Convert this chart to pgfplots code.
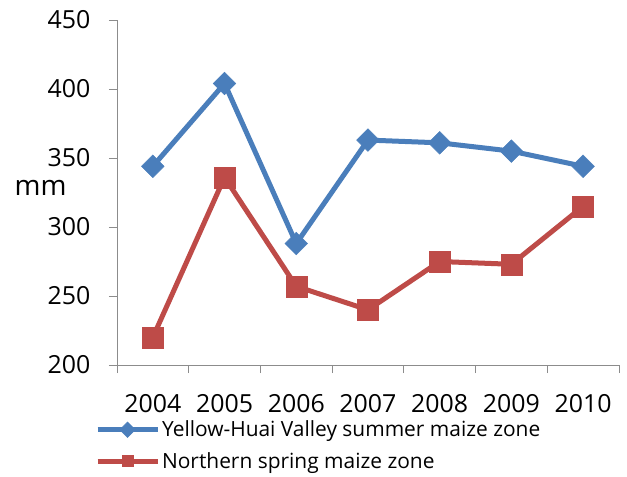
\documentclass[border=0pt]{standalone}
\usepackage{fontspec}
\setmainfont{Open Sans}
\usepackage{pgfplots}
\pgfplotsset{compat=1.18}
\definecolor{myblue}{HTML}{4A7EBB}
\definecolor{myred}{HTML}{BE4B48}
\definecolor{axgray}{HTML}{8C8C8C}
\begin{document}
\begin{tikzpicture}
\begin{axis}[
  scale only axis, width=502bp, height=345bp,
  axis lines=left, axis line style={axgray, line width=0.8pt, -},
  xmin=-0.5, xmax=6.5, ymin=200, ymax=450,
  xtick={-0.5,0.5,...,6.5}, x tick label as interval,
  xticklabels={2004,2005,2006,2007,2008,2009,2010},
  ytick={200,250,...,450},
  tick align=outside, major tick length=8bp,
  tick style={axgray, line width=0.8pt},
  ticklabel style={font=\fontsize{25}{29}\selectfont},
  /pgf/number format/assume math mode=true,
  xticklabel style={yshift=-18bp},
  yticklabel style={xshift=-15bp},
  clip=false,
  legend style={draw=none, fill=none, inner sep=0pt, at={(axis description cs:-0.044,-0.156)}, anchor=north west, font=\fontsize{21}{25}\selectfont, row sep=10bp, column sep=0bp, nodes={inner sep=2bp}},
  legend cell align=left,
  legend image code/.code={\draw[#1, mark size=5.5bp, mark repeat=2, mark phase=2] plot coordinates {(0bp,0bp) (30bp,0bp) (60bp,0bp)};},
]
\addplot[myblue, line width=5bp, mark=square*, mark size=8bp, mark options={rotate=45, line width=0.5bp, fill=myblue}]
 coordinates {(0,344) (1,404) (2,288) (3,363) (4,361) (5,355) (6,344)};
\addlegendentry{Yellow-Huai Valley summer maize zone}
\addplot[myred, line width=5bp, mark=square*, mark size=10.5bp, mark options={line width=0.5bp, fill=myred}]
 coordinates {(0,220) (1,336) (2,257) (3,240) (4,275) (5,273) (6,315)};
\addlegendentry{Northern spring maize zone}
\node[font=\fontsize{28}{32}\selectfont] at (axis description cs:-0.152,0.513) {mm};
\path (axis description cs:-0.233,-0.322) (axis description cs:1.016,1.058);
\end{axis}
\end{tikzpicture}
\end{document}
